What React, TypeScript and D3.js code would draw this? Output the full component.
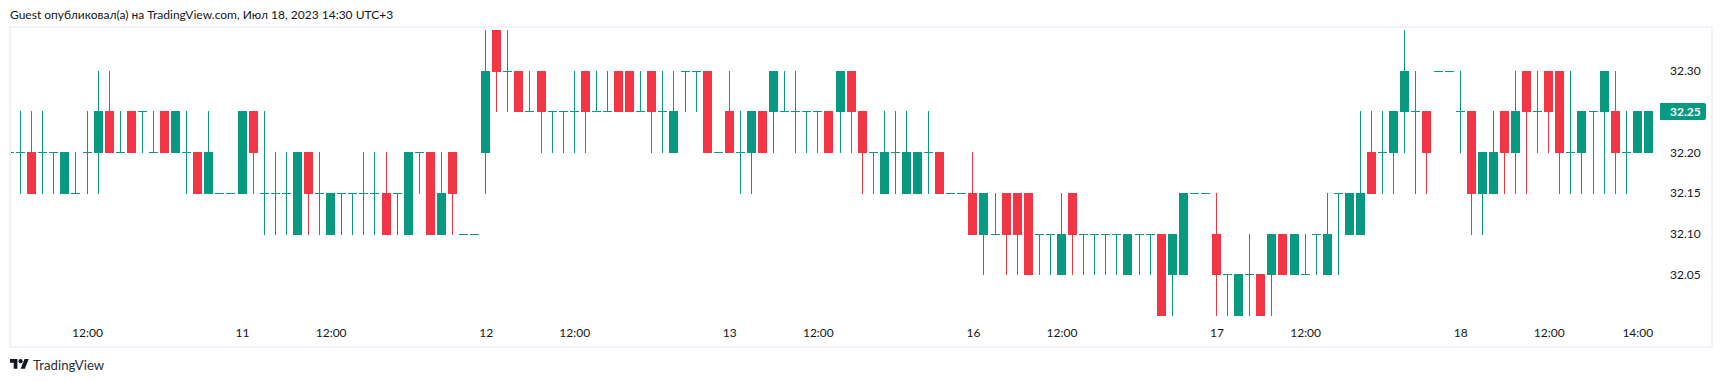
import React from "react";
import * as d3 from "d3";

const A = 32.35, B = 32.3, C = 32.25, D = 32.2, E = 32.15, F = 32.1, G = 32.05, H = 32.0;

const opens = [
  D, D, D, D, D, E, E, D, D, C,
  D, C, C, D, C, D, D, D, E, E,
  E, E, C, E, E, E, F, D, E, F,
  E, E, E, E, E, E, F, D, D, F,
  D, F, F, D, A, B, B, C, B, C,
  C, C, B, C, C, B, B, C, B, C,
  D, B, B, B, D, C, D, D, C, C,
  C, C, C, C, C, C, B, C, D, E,
  D, E, E, D, D, E, E, E, F, F,
  E, E, E, F, F, G, E, F, F, F,
  F, G, F, F, F, G, G, E, E, F,
  G, H, G, G, G, F, G, G, F, G,
  E, F, F, D, D, D, C, C, C, B,
  B, C, C, E, E, C, D, B, C, B,
  B, D, D, C, C, C, D, D, D,
];
const highs = [
  D, C, C, C, D, D, D, C, B, B,
  C, C, C, C, C, C, C, D, C, E,
  E, C, C, C, D, D, D, D, D, E,
  E, E, D, D, D, E, D, D, D, D,
  D, F, F, A, A, A, B, B, B, C,
  C, B, B, B, B, B, B, B, B, B,
  B, B, B, B, D, B, C, C, C, B,
  B, B, C, C, C, B, B, C, D, C,
  C, C, D, C, D, E, E, D, E, E,
  E, E, E, F, F, E, E, F, F, F,
  F, F, F, F, F, F, E, E, E, E,
  G, G, F, G, F, F, F, F, F, E,
  E, E, C, C, C, C, A, B, C, B,
  B, B, C, D, C, C, B, B, B, B,
  B, B, C, C, B, B, C, C, C,
];
const lows = [
  D, E, E, E, E, E, E, E, E, D,
  D, D, D, D, D, D, E, E, E, E,
  E, E, E, F, F, F, F, F, F, F,
  F, F, F, F, F, F, F, E, F, F,
  F, F, F, E, C, C, C, C, D, D,
  D, D, D, C, C, C, C, C, D, D,
  D, C, C, D, D, D, E, E, D, D,
  C, D, D, D, D, D, D, E, E, E,
  E, E, E, E, E, E, E, F, G, F,
  G, G, G, G, G, G, G, G, G, G,
  G, G, G, G, H, H, G, E, E, H,
  H, H, H, H, H, G, G, G, G, G,
  G, F, F, E, E, E, D, E, E, B,
  B, D, F, F, E, E, E, E, D, D,
  E, E, E, E, E, E, E, D, D,
];
const closes = [
  D, D, E, D, D, D, E, D, C, D,
  D, D, C, D, D, C, D, E, D, E,
  E, C, D, E, E, E, D, E, E, E,
  E, E, E, E, F, E, D, D, F, E,
  E, F, F, B, B, B, C, C, C, C,
  C, C, C, C, C, C, C, C, C, C,
  C, B, B, D, D, D, D, C, D, B,
  C, C, C, C, D, B, C, D, D, D,
  D, D, D, D, E, E, E, F, E, F,
  F, F, G, F, F, F, F, F, F, F,
  F, F, F, F, H, F, E, E, E, G,
  G, G, G, H, F, G, F, G, F, F,
  E, E, E, E, D, C, B, C, D, B,
  B, C, E, D, D, D, C, C, C, C,
  D, D, C, C, B, D, D, C, C,
];

const priceTicks = [32.3, 32.2, 32.15, 32.1, 32.05];
const timeTickIndex = [7, 21, 29, 43, 51, 65, 73, 87, 95, 109, 117, 131, 139, 147];
const timeTickLabels = ["12:00", "11", "12:00", "12", "12:00", "13", "12:00", "16", "12:00", "17", "12:00", "18", "12:00", "14:00"];
const lastPrice = 32.25;
const headerText = "Guest опубликовал(а) на TradingView.com, Июл 18, 2023 14:30 UTC+3";
const brandText = "TradingView";

const UP = "#089981";
const DOWN = "#F23645";
const FONT = "Lato, 'Noto Sans', sans-serif";

const W = 1722;
const HEIGHT = 382;

export default function App() {
  const x = d3.scaleLinear().domain([0, 148]).range([9.525, 9.525 + 148 * 11.0735]);
  const y = d3.scaleLinear().domain([32.0, 32.35]).range([315.1, 29.85]);
  const row = (p: number) => Math.round(y(p));
  const px = (i: number) => Math.floor(x(i));

  const bars = d3.range(opens.length).map((i) => ({
    i, o: opens[i], c: closes[i], h: highs[i], l: lows[i],
  }));

  return (
    <svg
      width={W}
      height={HEIGHT}
      viewBox={`0 0 ${W} ${HEIGHT}`}
      style={{ position: "absolute", left: 0, top: 0, background: "#fff" }}
      fontFamily={FONT}
    >
      <defs>
        <clipPath id="plot">
          <rect x={10} y={28} width={1660} height={318} />
        </clipPath>
      </defs>
      <text x={10} y={19} fontSize={12} fill="#131722">{headerText}</text>
      <g clipPath="url(#plot)">
        {bars.map((b) => {
          const color = b.c < b.o ? DOWN : UP;
          const left = px(b.i) - 4;
          const top = row(Math.max(b.o, b.c));
          const bottom = row(Math.min(b.o, b.c));
          const wickTop = row(b.h);
          const wickBottom = row(b.l);
          return (
            <g key={b.i} fill={color}>
              {wickBottom > wickTop && (
                <rect x={px(b.i)} y={wickTop} width={1} height={wickBottom - wickTop + 1} />
              )}
              <rect x={left} y={top} width={9} height={bottom - top + 1} />
            </g>
          );
        })}
      </g>
      <rect x={10} y={27} width={1702} height={320} fill="none" stroke="#F0F3FA" strokeWidth={2} />
      {priceTicks.map((p) => (
        <text key={p} x={1670} y={y(p) + 4.5} fontSize={12} fill="#131722">{p.toFixed(2)}</text>
      ))}
      <path
        d={`M1660 ${row(lastPrice) - 8}h44a2 2 0 0 1 2 2v13a2 2 0 0 1 -2 2h-44z`}
        fill={UP}
      />
      <text x={1670} y={y(lastPrice) + 4.5} fontSize={12} fontWeight={700} fill="#fff">{lastPrice.toFixed(2)}</text>
      {timeTickIndex.map((idx, k) => (
        <text key={idx} x={x(idx) + 0.5} y={337} fontSize={12} fill="#131722" textAnchor="middle">
          {timeTickLabels[k]}
        </text>
      ))}
      <g transform="translate(10,357) scale(0.53)" fill="#131722">
        <path d="M14 22H7V11H0V4h14v18zM28 22h-8l7.5-18h8L28 22z" />
        <circle cx={20} cy={8} r={4} />
      </g>
      <text x={33} y={369.5} fontSize={13.2} fill="#2a2e39">{brandText}</text>
    </svg>
  );
}
